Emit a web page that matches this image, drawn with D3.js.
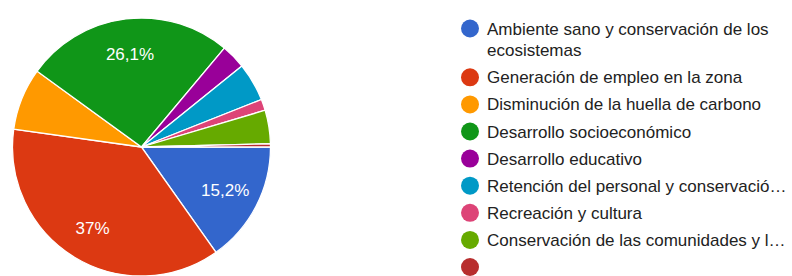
<!DOCTYPE html>
<html>
<head>
<meta charset="utf-8">
<script src="https://cdn.jsdelivr.net/npm/d3@7"></script>
<style>
  html, body { margin: 0; padding: 0; background: #fff; }
  svg { display: block; font-family: "Liberation Sans", Arial, sans-serif; }
</style>
</head>
<body>
<div id="chart"></div>
<script>
// slice values (percent)
const categories = [
  'Ambiente sano y conservación de los ecosistemas',
  'Generación de empleo en la zona',
  'Disminución de la huella de carbono',
  'Desarrollo socioeconómico',
  'Desarrollo educativo',
  'Retención del personal y conservació…',
  'Recreación y cultura',
  'Conservación de las comunidades y l…',
  ''
];
const values = [15.2, 37, 7.8, 26.1, 3.1, 4.8, 1.4, 4.2, 0.4];
const colors = ['#3366cc', '#dc3912', '#ff9900', '#109618', '#990099',
                '#0099c6', '#dd4477', '#66aa00', '#b82e2e'];

const width = 792, height = 276;
const cx = 141.5, cy = 147, radius = 129;

const data = categories.map((c, i) => ({ label: c, value: values[i], color: colors[i] }));

const svg = d3.select('#chart').append('svg')
  .attr('width', width)
  .attr('height', height);

const g = svg.append('g').attr('transform', `translate(${cx},${cy})`);

// google-style pie: starts at 3 o'clock, goes clockwise
const pie = d3.pie().value(d => d.value).sort(null)
  .startAngle(Math.PI / 2).endAngle(Math.PI / 2 + 2 * Math.PI);
const arc = d3.arc().innerRadius(0).outerRadius(radius);
const labelArc = d3.arc().innerRadius(radius * 0.73).outerRadius(radius * 0.73);

const arcs = pie(data);

g.selectAll('path')
  .data(arcs)
  .join('path')
  .attr('d', arc)
  .attr('fill', d => d.data.color)
  .attr('stroke', '#fff')
  .attr('stroke-width', 1.3);

const fmt = v => String(v).replace('.', ',') + '%';

g.selectAll('text')
  .data(arcs.filter(d => d.data.value >= 10))
  .join('text')
  .attr('transform', d => `translate(${labelArc.centroid(d)})`)
  .attr('text-anchor', 'middle')
  .attr('dy', '0.36em')
  .attr('fill', '#fff')
  .attr('font-size', 17)
  .text(d => fmt(d.data.value));

// legend
const legendX = 470, legendTop = 28.5, rowStep = 27.1, lineStep = 21.7, maxW = 300;
const legend = svg.append('g');
let y = legendTop;
data.forEach(d => {
  const item = legend.append('g');
  item.append('circle')
    .attr('cx', legendX).attr('cy', y).attr('r', 9)
    .attr('fill', d.color);
  const t = item.append('text')
    .attr('x', legendX + 17).attr('y', y + 6)
    .attr('fill', '#222')
    .attr('font-size', 17);
  // wrap words to maxW
  const words = d.label.split(' ').filter(w => w);
  let line = [], tspan = t.append('tspan').attr('x', legendX + 17);
  let lines = 1;
  words.forEach(w => {
    line.push(w);
    tspan.text(line.join(' '));
    if (tspan.node().getComputedTextLength() > maxW && line.length > 1) {
      line.pop();
      tspan.text(line.join(' '));
      line = [w];
      tspan = t.append('tspan').attr('x', legendX + 17).attr('dy', lineStep).text(w);
      lines++;
    }
  });
  y += rowStep + (lines - 1) * lineStep;
});
</script>
</body>
</html>
